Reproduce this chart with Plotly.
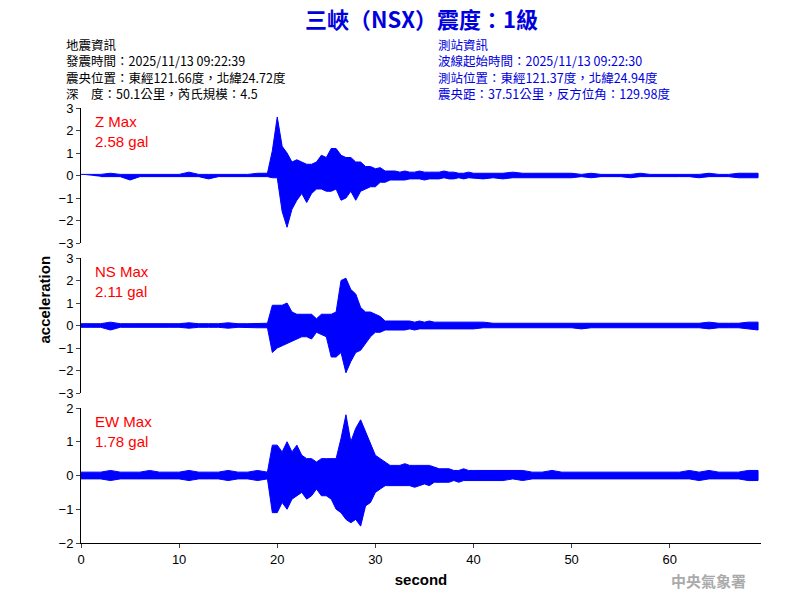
import plotly.graph_objects as go

# time grid (s)
T = list(range(0, 20)) + [19.5 + 0.5 * i for i in range(42)] + list(range(41, 70))

z_up = [0.05,0.05,0.05,0.1,0.05,0.05,0.05,0.05,0.05,0.05,0.05,0.15,0.05,0.05,0.05,0.05,0.05,0.05,0.1,0.1,
        1.1,2.6,1.3,1.0,0.6,0.7,0.6,0.5,0.5,0.6,0.9,0.8,1.2,1.2,0.9,0.8,0.8,0.6,0.6,0.4,0.4,0.3,0.35,0.2,0.2,0.2,
        0.15,0.2,0.15,0.15,0.2,0.15,0.15,0.15,0.15,0.2,0.15,0.15,0.1,0.1,0.15,0.1,
        0.1,0.1,0.1,0.15,0.1,0.1,0.1,0.1,0.1,0.1,0.05,0.1,0.05,0.05,0.05,0.05,0.1,0.05,0.05,0.05,0.05,0.05,0.05,0.1,0.05,0.05,0.1,0.1,0.1]
z_lo = [-0.05,-0.05,-0.05,-0.2,-0.05,-0.05,-0.05,-0.05,-0.05,-0.05,-0.05,-0.15,-0.05,-0.05,-0.05,-0.05,-0.05,-0.05,-0.1,-0.1,
        -1.6,-2.3,-1.5,-1.1,-0.8,-1.2,-0.8,-0.6,-0.6,-0.7,-0.7,-0.6,-1.1,-1.0,-0.7,-1.1,-0.7,-0.6,-0.5,-0.5,-0.3,-0.3,-0.2,-0.2,-0.2,-0.2,
        -0.15,-0.15,-0.15,-0.2,-0.15,-0.15,-0.15,-0.1,-0.15,-0.15,-0.1,-0.15,-0.1,-0.1,-0.15,-0.1,
        -0.15,-0.1,-0.1,-0.1,-0.1,-0.1,-0.1,-0.1,-0.05,-0.1,-0.05,-0.05,-0.05,-0.1,-0.05,-0.05,-0.05,-0.05,-0.05,-0.05,-0.1,-0.05,-0.05,-0.05,-0.1,-0.1,-0.1]

ns_up = [0.08,0.08,0.08,0.15,0.08,0.08,0.08,0.08,0.08,0.08,0.08,0.12,0.08,0.08,0.08,0.12,0.08,0.08,0.1,0.1,
         0.9,0.9,0.9,1.0,0.6,0.5,0.5,0.5,0.5,0.3,0.5,0.5,0.5,0.6,2.0,2.1,1.6,1.4,0.8,0.6,0.6,0.5,0.4,0.2,0.2,0.2,
         0.2,0.2,0.2,0.15,0.2,0.15,0.2,0.15,0.15,0.15,0.15,0.15,0.15,0.15,0.15,0.15,
         0.15,0.1,0.1,0.1,0.1,0.1,0.1,0.1,0.1,0.1,0.1,0.1,0.1,0.1,0.1,0.1,0.1,0.1,0.1,0.1,0.1,0.1,0.1,0.15,0.1,0.1,0.1,0.15,0.15]
ns_lo = [-0.08,-0.08,-0.08,-0.2,-0.08,-0.08,-0.08,-0.08,-0.08,-0.08,-0.08,-0.12,-0.08,-0.08,-0.08,-0.12,-0.08,-0.08,-0.1,-0.1,
         -1.2,-1.0,-0.9,-0.8,-0.7,-0.6,-0.5,-0.5,-0.6,-0.3,-0.4,-0.5,-1.4,-1.4,-1.2,-2.1,-1.6,-1.2,-1.1,-0.8,-0.5,-0.3,-0.3,-0.2,-0.2,-0.2,
         -0.2,-0.2,-0.15,-0.2,-0.15,-0.15,-0.15,-0.15,-0.15,-0.15,-0.15,-0.15,-0.15,-0.15,-0.15,-0.15,
         -0.1,-0.1,-0.1,-0.1,-0.1,-0.1,-0.1,-0.1,-0.1,-0.1,-0.15,-0.1,-0.1,-0.1,-0.1,-0.1,-0.1,-0.1,-0.1,-0.1,-0.1,-0.1,-0.1,-0.15,-0.1,-0.1,-0.1,-0.15,-0.2]

ew_up = [0.1,0.1,0.1,0.15,0.1,0.1,0.1,0.15,0.1,0.1,0.1,0.15,0.1,0.1,0.1,0.15,0.1,0.1,0.15,0.1,
         0.9,0.9,0.7,1.0,0.7,0.9,0.6,0.5,0.5,0.4,0.5,0.5,0.5,0.5,1.1,1.8,1.0,1.4,1.65,1.3,0.9,0.6,0.5,0.4,0.3,0.3,
         0.3,0.35,0.3,0.3,0.3,0.3,0.3,0.25,0.2,0.2,0.2,0.15,0.15,0.2,0.15,0.15,
         0.15,0.15,0.15,0.15,0.15,0.1,0.1,0.15,0.1,0.1,0.1,0.1,0.1,0.1,0.1,0.1,0.1,0.1,0.1,0.1,0.1,0.15,0.1,0.15,0.1,0.1,0.1,0.15,0.15]
ew_lo = [-0.1,-0.1,-0.1,-0.15,-0.1,-0.1,-0.1,-0.1,-0.1,-0.1,-0.1,-0.15,-0.1,-0.1,-0.1,-0.15,-0.1,-0.1,-0.15,-0.1,
         -1.1,-1.1,-0.8,-1.0,-0.7,-0.6,-0.5,-0.7,-0.6,-0.4,-0.6,-0.6,-0.7,-1.0,-1.1,-1.3,-1.4,-1.3,-1.5,-0.9,-0.8,-0.5,-0.4,-0.3,-0.3,-0.3,
         -0.3,-0.3,-0.3,-0.35,-0.3,-0.25,-0.3,-0.2,-0.2,-0.2,-0.2,-0.15,-0.2,-0.15,-0.15,-0.15,
         -0.15,-0.15,-0.15,-0.1,-0.15,-0.1,-0.1,-0.1,-0.1,-0.1,-0.1,-0.1,-0.1,-0.1,-0.1,-0.1,-0.1,-0.1,-0.1,-0.1,-0.1,-0.1,-0.15,-0.1,-0.1,-0.1,-0.1,-0.15,-0.15]

panels = [("Z Max", "2.58 gal", z_up, z_lo, [-3, 3], [-3, -2, -1, 0, 1, 2, 3]),
          ("NS Max", "2.11 gal", ns_up, ns_lo, [-3, 3], [-3, -2, -1, 0, 1, 2, 3]),
          ("EW Max", "1.78 gal", ew_up, ew_lo, [-2, 2], [-2, -1, 0, 1, 2])]
domains = [[0.595, 0.82], [0.345, 0.57], [0.095, 0.32]]

fig = go.Figure()
tickfont = dict(family="Liberation Sans", size=13, color="black")
for i, (lab, val, up, lo, rng, tv) in enumerate(panels):
    n = i + 1
    xa = "x" if n == 1 else f"x{n}"
    ya = "y" if n == 1 else f"y{n}"
    fig.add_trace(go.Scatter(x=T + T[::-1], y=up + lo[::-1], fill="toself", fillcolor="#0000ff",
                             line=dict(color="#0000ff", width=1), mode="lines",
                             xaxis=xa, yaxis=ya, showlegend=False, hoverinfo="skip"))
    fig.layout[f"yaxis{n if n > 1 else ''}"] = dict(domain=domains[i], range=rng, tickvals=tv,
        showgrid=False, zeroline=False, showline=True, linecolor="black", ticks="outside",
        ticklen=4, tickfont=tickfont, anchor=xa)
    fig.layout[f"xaxis{n if n > 1 else ''}"] = dict(range=[0, 69.3], anchor=ya, showgrid=False,
        zeroline=False, showticklabels=(n == 3), showline=(n == 3), linecolor="black",
        ticks="outside" if n == 3 else "", ticklen=4, tickvals=[0, 10, 20, 30, 40, 50, 60],
        tickfont=tickfont, matches="x" if n > 1 else None)
    fig.add_annotation(text=lab + "<br>" + val, xref="paper", yref="paper", x=0.018,
                       y=domains[i][1] - 0.005, xanchor="left", yanchor="top", showarrow=False,
                       align="left", font=dict(family="Liberation Sans", size=15, color="red"))

fig.layout.xaxis3.title = dict(text="<b>second</b>", font=dict(family="Liberation Sans", size=15, color="black"), standoff=8)

cjk = "Noto Sans CJK TC"
fig.add_annotation(text="<b>三峽（NSX）震度：1級</b>", xref="paper", yref="paper", x=0.5, y=1 - 18 / 600,
                   yanchor="middle", showarrow=False, font=dict(family=cjk, size=22, color="#0000dd"))
left = ["地震資訊", "發震時間：2025/11/13 09:22:39", "震央位置：東經121.66度，北緯24.72度", "深　度：50.1公里，芮氏規模：4.5"]
right = ["測站資訊", "波線起始時間：2025/11/13 09:22:30", "測站位置：東經121.37度，北緯24.94度", "震央距：37.51公里，反方位角：129.98度"]
for lines, x0, col in [(left, 65, "black"), (right, 437, "#0000dd")]:
    fig.add_annotation(text="<br>".join(lines), xref="paper", yref="paper", x=(x0 - 81) / 680,
                       y=1 - 34 / 600, xanchor="left", yanchor="top", align="left", showarrow=False,
                       borderpad=0, font=dict(family=cjk, size=12.5, color=col))
fig.add_annotation(text="<b>acceleration</b>", xref="paper", yref="paper", x=(33 - 81) / 680, y=0.5,
                   textangle=-90, showarrow=False, font=dict(family="Liberation Sans", size=15, color="black"))
fig.add_annotation(text="<b>中央氣象署</b>", xref="paper", yref="paper", x=(748 - 81) / 680, y=1 - 580 / 600,
                   xanchor="right", yanchor="middle", showarrow=False, font=dict(family=cjk, size=15, color="#aaaaaa"))

fig.update_layout(width=800, height=600, margin=dict(l=81, r=39, t=0, b=0, autoexpand=False),
                  plot_bgcolor="white", paper_bgcolor="white")
fig.write_html("out.html", config={"displayModeBar": False},
               post_script="document.body.style.margin='0';")
